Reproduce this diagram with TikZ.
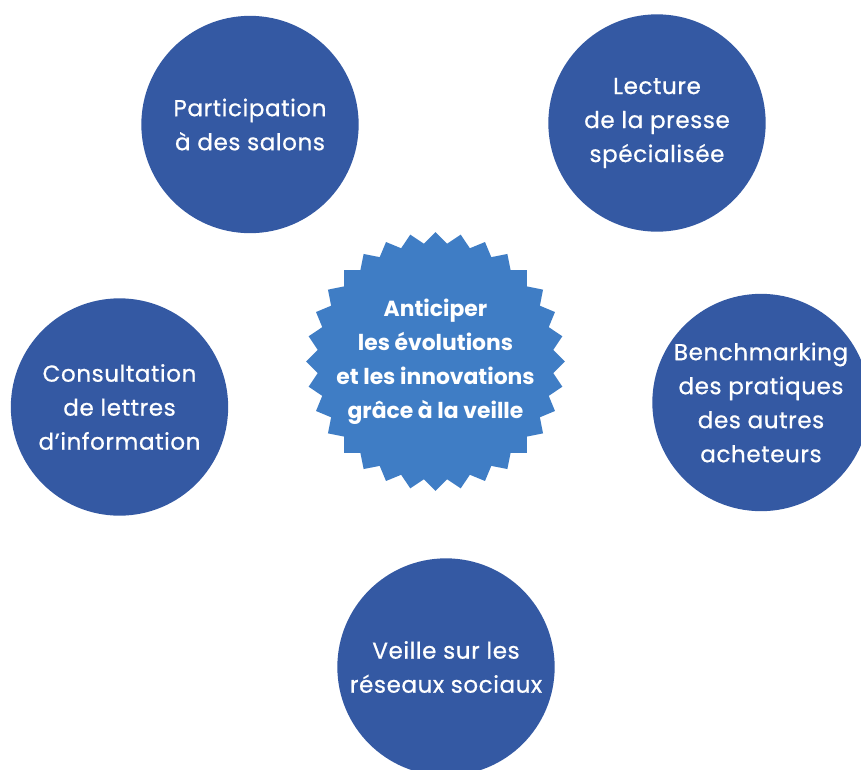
\documentclass[tikz,border=0pt]{standalone}
\usepackage{fontspec}
\setmainfont{Poppins}
\newfontfamily\bubblefont[LetterSpace=2.5,FakeBold=0.7]{Poppins}
\usetikzlibrary{shapes.geometric}
\definecolor{bubbleblue}{RGB}{52,89,163}
\definecolor{hubblue}{RGB}{63,125,197}
\begin{document}
\begin{tikzpicture}[x=0.75pt,y=-0.75pt,
  bubble/.style={circle, fill=bubbleblue, minimum size=163pt, inner sep=0pt,
    text=white, align=center, font={\bubblefont\fontsize{17.3}{25.5}\selectfont}},
  burst/.style={star, star points=32, star point ratio=1.093, fill=hubblue,
    minimum size=194pt, inner sep=0pt},
  hubtext/.style={text=white, align=center, font={\bfseries\fontsize{16.4}{25.5}\selectfont}}
]
\useasboundingbox (0,0) rectangle (861,769);
\clip (0,0) rectangle (861,769);

\node[burst] (hub) at (435.5,361.5) {};
\node[hubtext] (hubtxt) at (hub.center) {Anticiper\\les évolutions\\et les innovations\\grâce à la veille};

\node[bubble] (salons) at (250,124.5) {Participation\\à des salons};
\node[bubble] (presse) at (657,123) {Lecture\\de la presse\\spécialisée};
\node[bubble] (lettres) at (119.5,407) {Consultation\\de lettres\\d’information};
\node[bubble] (bench) at (761,402.5) {Benchmarking\\des pratiques\\des autres\\acheteurs};
\node[bubble] (reseaux) at (446,667) {Veille sur les\\réseaux sociaux};
\end{tikzpicture}
\end{document}
